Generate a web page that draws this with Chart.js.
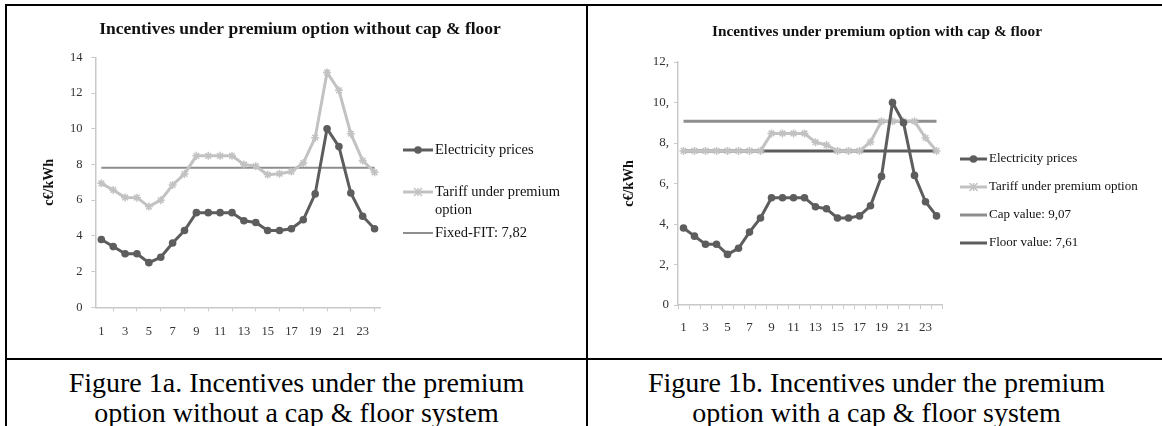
<!DOCTYPE html>
<html>
<head>
<meta charset="utf-8">
<script src="https://cdn.jsdelivr.net/npm/chart.js@4.4.0/dist/chart.umd.min.js"></script>
<style>
    body { margin: 0; background: #fff; width: 1162px; height: 426px; overflow: hidden; position: relative; font-family: "Liberation Serif", "Times New Roman", serif; }
    .rule { position: absolute; background: #000; }
    .panel { position: absolute; }
    .caption { position: absolute; text-align: center; font-size: 28px; line-height: 30px; color: #000; white-space: nowrap; }
</style>
</head>
<body>
<div class="rule" style="left:5px;top:4px;width:1170px;height:2px"></div>
<div class="rule" style="left:5px;top:4px;width:2px;height:430px"></div>
<div class="rule" style="left:586px;top:4px;width:2px;height:430px"></div>
<div class="rule" style="left:5px;top:358px;width:1170px;height:2px"></div>

<div class="panel" style="left:7px;top:6px;width:579px;height:352px"><canvas id="chart-a" width="579" height="352"></canvas></div>
<div class="panel" style="left:588px;top:6px;width:574px;height:352px"><canvas id="chart-b" width="574" height="352"></canvas></div>

<div class="caption" style="left:7px;top:368px;width:579px">Figure 1a. Incentives under the premium<br>option without a cap &amp; floor system</div>
<div class="caption" style="left:588px;top:368px;width:577px">Figure 1b. Incentives under the premium<br>option with a cap &amp; floor system</div>

<script>
// hours of the day
const hours = ['1', '2', '3', '4', '5', '6', '7', '8', '9', '10', '11', '12',
    '13', '14', '15', '16', '17', '18', '19', '20', '21', '22', '23', '24'];

// c€/kWh
const electricityPrices = [3.8, 3.4, 3.0, 3.0, 2.5, 2.8, 3.6, 4.3, 5.3, 5.3, 5.3, 5.3,
    4.85, 4.75, 4.3, 4.3, 4.4, 4.9, 6.35, 10.0, 9.0, 6.4, 5.1, 4.4];
const tariffNoCap = [6.94, 6.57, 6.15, 6.14, 5.64, 6.0, 6.85, 7.47, 8.48, 8.48, 8.48, 8.48,
    8.0, 7.9, 7.43, 7.48, 7.6, 8.08, 9.5, 13.15, 12.15, 9.72, 8.22, 7.56];
const tariffCapFloor = [7.61, 7.61, 7.61, 7.61, 7.61, 7.61, 7.61, 7.61, 8.47, 8.47, 8.47, 8.47,
    8.04, 7.9, 7.61, 7.61, 7.61, 8.05, 9.07, 9.07, 9.07, 9.07, 8.26, 7.61];
const fixedFit = 7.82;
const capValue = 9.07;
const floorValue = 7.61;

const yTicksA = [0, 2, 4, 6, 8, 10, 12, 14];
const yTicksB = [0, 2, 4, 6, 8, 10, 12];

const DARK = '#5d5d5d';
const LIGHT = '#c2c2c2';
const MID = '#8e8e8e';
const AXIS = '#c9c9c9';
const SERIF = '"Liberation Serif", "Times New Roman", serif';

Chart.defaults.font.family = SERIF;
Chart.defaults.color = '#333';

function flatLine(value) {
    return [{x: hours[0], y: value}, {x: hours[hours.length - 1], y: value}];
}

function drawMarker(ctx, style, x, y, r, color) {
    ctx.save();
    ctx.fillStyle = color;
    ctx.strokeStyle = color;
    if (style === 'circle') {
        ctx.beginPath();
        ctx.arc(x, y, r, 0, Math.PI * 2);
        ctx.fill();
    } else if (style === 'star') {
        ctx.lineWidth = 1.5;
        ctx.beginPath();
        ctx.moveTo(x - r, y - r); ctx.lineTo(x + r, y + r);
        ctx.moveTo(x - r, y + r); ctx.lineTo(x + r, y - r);
        ctx.moveTo(x, y - r); ctx.lineTo(x, y + r);
        ctx.stroke();
    }
    ctx.restore();
}

// Excel-like title and legend on the right side
const sheetDecor = {
    id: 'sheetDecor',
    afterDraw(chart, args, opts) {
        const ctx = chart.ctx;
        ctx.save();
        ctx.fillStyle = '#111';
        ctx.textBaseline = 'middle';
        ctx.textAlign = 'center';
        ctx.font = 'bold ' + opts.titleSize + 'px ' + SERIF;
        ctx.fillText(opts.title, opts.titleX, opts.titleY);

        ctx.textAlign = 'left';
        ctx.font = opts.legendSize + 'px ' + SERIF;
        chart.data.datasets.forEach((ds, i) => {
            const y = opts.rows[i];
            ctx.strokeStyle = ds.borderColor;
            ctx.lineWidth = ds.borderWidth;
            ctx.beginPath();
            ctx.moveTo(opts.legendX, y);
            ctx.lineTo(opts.legendX + opts.sampleW, y);
            ctx.stroke();
            if (ds.pointRadius > 0) {
                drawMarker(ctx, ds.pointStyle, opts.legendX + opts.sampleW / 2, y, ds.pointRadius, ds.borderColor);
            }
            ctx.fillStyle = '#111';
            ds.label.split('\n').forEach((t, k) => {
                ctx.fillText(t, opts.legendX + opts.sampleW + 2, y + k * opts.lineGap);
            });
        });
        ctx.restore();
    }
};

function axisX(fontSize, padding, height, everyTick) {
    return {
        type: 'category',
        offset: true,
        grid: {offset: true, drawOnChartArea: false, tickLength: 4, color: AXIS, lineWidth: 1},
        border: {color: AXIS, width: 1.5},
        ticks: {
            autoSkip: false, maxRotation: 0, padding: padding,
            font: {size: fontSize}, color: '#333',
            callback: (v, i) => i % 2 === 0 ? hours[i] : (everyTick ? '' : null)
        },
        afterFit: (s) => { s.height = height; }
    };
}

function axisY(ticks, fontSize, padding, width, fmt) {
    return {
        min: ticks[0], max: ticks[ticks.length - 1],
        grid: {drawOnChartArea: false, tickLength: 4, color: AXIS, lineWidth: 1},
        border: {color: AXIS, width: 1.5},
        ticks: {stepSize: ticks[1] - ticks[0], padding: padding, font: {size: fontSize}, color: '#333', callback: fmt},
        title: {display: true, text: 'c€/kWh', color: '#111', padding: 0, font: {size: 14, weight: 'bold'}},
        afterFit: (s) => { s.width = width; }
    };
}

const baseOpts = {
    responsive: false,
    animation: false,
    devicePixelRatio: 1,
    plugins: {legend: {display: false}, title: {display: false}, tooltip: {enabled: false}}
};

new Chart(document.getElementById('chart-a'), {
    type: 'line',
    data: {
        labels: hours,
        datasets: [{
            label: 'Electricity prices',
            data: electricityPrices,
            borderColor: DARK, backgroundColor: DARK, borderWidth: 3,
            pointStyle: 'circle', pointRadius: 3.8, pointBackgroundColor: DARK, pointBorderWidth: 0
        }, {
            label: 'Tariff under premium\noption',
            data: tariffNoCap,
            borderColor: LIGHT, backgroundColor: LIGHT, borderWidth: 3,
            pointStyle: 'star', pointRadius: 4, pointBorderWidth: 1.5
        }, {
            label: 'Fixed-FIT: 7,82',
            data: flatLine(fixedFit),
            borderColor: MID, backgroundColor: MID, borderWidth: 2,
            pointRadius: 0
        }]
    },
    options: Object.assign({}, baseOpts, {
        layout: {padding: {left: 33.6, top: 51.3, right: 205.5, bottom: 0}},
        scales: {
            x: axisX(12.5, 13, 50.7, false),
            y: axisY(yTicksA, 12.5, 9, 54.8, (v) => String(v))
        },
        plugins: Object.assign({}, baseOpts.plugins, {
            sheetDecor: {
                title: 'Incentives under premium option without cap & floor',
                titleSize: 17.5, titleX: 293, titleY: 23,
                legendSize: 14.5, legendX: 396, sampleW: 30, lineGap: 18,
                rows: [144, 186, 227]
            }
        })
    }),
    plugins: [sheetDecor]
});

new Chart(document.getElementById('chart-b'), {
    type: 'line',
    data: {
        labels: hours,
        datasets: [{
            label: 'Electricity prices',
            data: electricityPrices,
            borderColor: DARK, backgroundColor: DARK, borderWidth: 3,
            pointStyle: 'circle', pointRadius: 3.8, pointBackgroundColor: DARK, pointBorderWidth: 0
        }, {
            label: 'Tariff under premium option',
            data: tariffCapFloor,
            borderColor: LIGHT, backgroundColor: LIGHT, borderWidth: 3,
            pointStyle: 'star', pointRadius: 4, pointBorderWidth: 1.5
        }, {
            label: 'Cap value: 9,07',
            data: flatLine(capValue),
            borderColor: MID, backgroundColor: MID, borderWidth: 3,
            pointRadius: 0
        }, {
            label: 'Floor value: 7,61',
            data: flatLine(floorValue),
            borderColor: DARK, backgroundColor: DARK, borderWidth: 3,
            pointRadius: 0
        }]
    },
    options: Object.assign({}, baseOpts, {
        layout: {padding: {left: 32.6, top: 56, right: 220, bottom: 0}},
        scales: {
            x: axisX(13, 11, 53, true),
            y: axisY(yTicksB, 13, 5, 57.4, (v) => v === 0 ? '0' : v + ',')
        },
        plugins: Object.assign({}, baseOpts.plugins, {
            sheetDecor: {
                title: 'Incentives under premium option with cap & floor',
                titleSize: 15.3, titleX: 289, titleY: 26,
                legendSize: 13, legendX: 372, sampleW: 27, lineGap: 16,
                rows: [153, 181, 209, 237]
            }
        })
    }),
    plugins: [sheetDecor]
});
</script>
</body>
</html>
